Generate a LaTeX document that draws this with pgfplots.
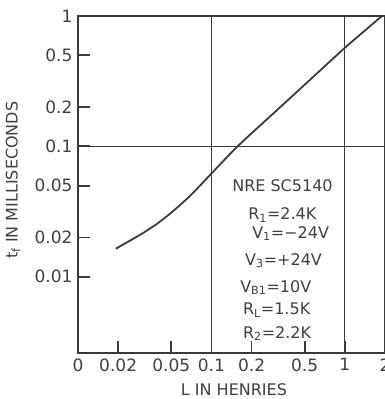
\documentclass[border=0pt]{standalone}
\usepackage{pgfplots}
\pgfplotsset{compat=1.18}
\usepackage{fontspec}
\setmainfont{DejaVu Sans}
\definecolor{ink}{HTML}{3A3A3A}
\definecolor{txt}{HTML}{404040}
\pgfplotstableread{
x y
0.0192 0.0164
0.0295 0.0211
0.0394 0.0256
0.0526 0.0324
0.070 0.0422
0.0933 0.0574
0.157 0.100
0.30 0.184
0.50 0.297
1.00 0.570
1.90 1.000
}\curvedata
\begin{document}
\fontsize{16bp}{19bp}\selectfont
\begin{tikzpicture}
\begin{loglogaxis}[
  scale only axis, width=307bp, height=337bp,
  xmin=0.01, xmax=2, ymin=0.0026, ymax=1,
  axis line style={draw=ink, line width=1.6bp},
  xtick={0.01,0.02,0.05,0.1,0.2,0.5,1,2},
  xticklabels={0,0.02,0.05,0.1,0.2,0.5,1,2},
  ytick={0.01,0.02,0.05,0.1,0.2,0.5,1},
  yticklabels={0.01,0.02,0.05,0.1,0.2,0.5,1},
  xtick pos=left, ytick pos=left, tick align=inside,
  xminorticks=false, yminorticks=false,
  major tick length=12bp,
  xtick style={draw=ink, line width=1.8bp},
  ytick style={draw=ink, line width=1.8bp},
  tick label style={font=\fontsize{17bp}{20bp}\selectfont, text=txt},
  /pgf/number format/assume math mode=true,
  xlabel={L IN HENRIES},
  ylabel={t\textsubscript{f} IN MILLISECONDS},
  every axis x label/.style={at={(rel axis cs:0.508,0)}, yshift=-37bp, anchor=center, text=txt, font=\fontsize{16bp}{19bp}\selectfont},
  every axis y label/.style={at={(rel axis cs:0,0.513)}, xshift=-65bp, rotate=90, anchor=center, text=txt, font=\fontsize{16bp}{19bp}\selectfont},
  clip=false,
]
\draw[ink, line width=1.3bp] (axis cs:0.1,0.0026) -- (axis cs:0.1,1);
\draw[ink, line width=1.3bp] (axis cs:1,0.0026) -- (axis cs:1,1);
\draw[ink, line width=1.3bp] (axis cs:0.01,0.1) -- (axis cs:2,0.1);
\pgfplotsinvokeforeach{0.02,0.05,0.2,0.5}{
  \draw[ink, line width=1.8bp] (axis cs:#1,0.0026) -- (axis cs:#1,0.00316);
}
\addplot[ink, line width=1.8bp, smooth, tension=0.4, mark=none] table[x=x,y=y] {\curvedata};
\begin{scope}[every node/.style={anchor=base west, text=txt, font=\fontsize{16bp}{19bp}\selectfont, inner sep=0pt}]
\node at (rel axis cs:0.502,0.478) {NRE SC5140};
\node at (rel axis cs:0.554,0.395) {R\textsubscript{1}=2.4K};
\node at (rel axis cs:0.567,0.341) {V\textsubscript{1}=−24V};
\node at (rel axis cs:0.544,0.261) {V\textsubscript{3}=+24V};
\node at (rel axis cs:0.528,0.181) {V\textsubscript{B1}=10V};
\node at (rel axis cs:0.537,0.113) {R\textsubscript{L}=1.5K};
\node at (rel axis cs:0.537,0.0445) {R\textsubscript{2}=2.2K};
\end{scope}
\end{loglogaxis}
\pgfresetboundingbox
\path[use as bounding box] ([shift={(-78bp,-46bp)}]current axis.south west) rectangle ([shift={(0bp,16bp)}]current axis.north east);
\end{tikzpicture}
\end{document}
